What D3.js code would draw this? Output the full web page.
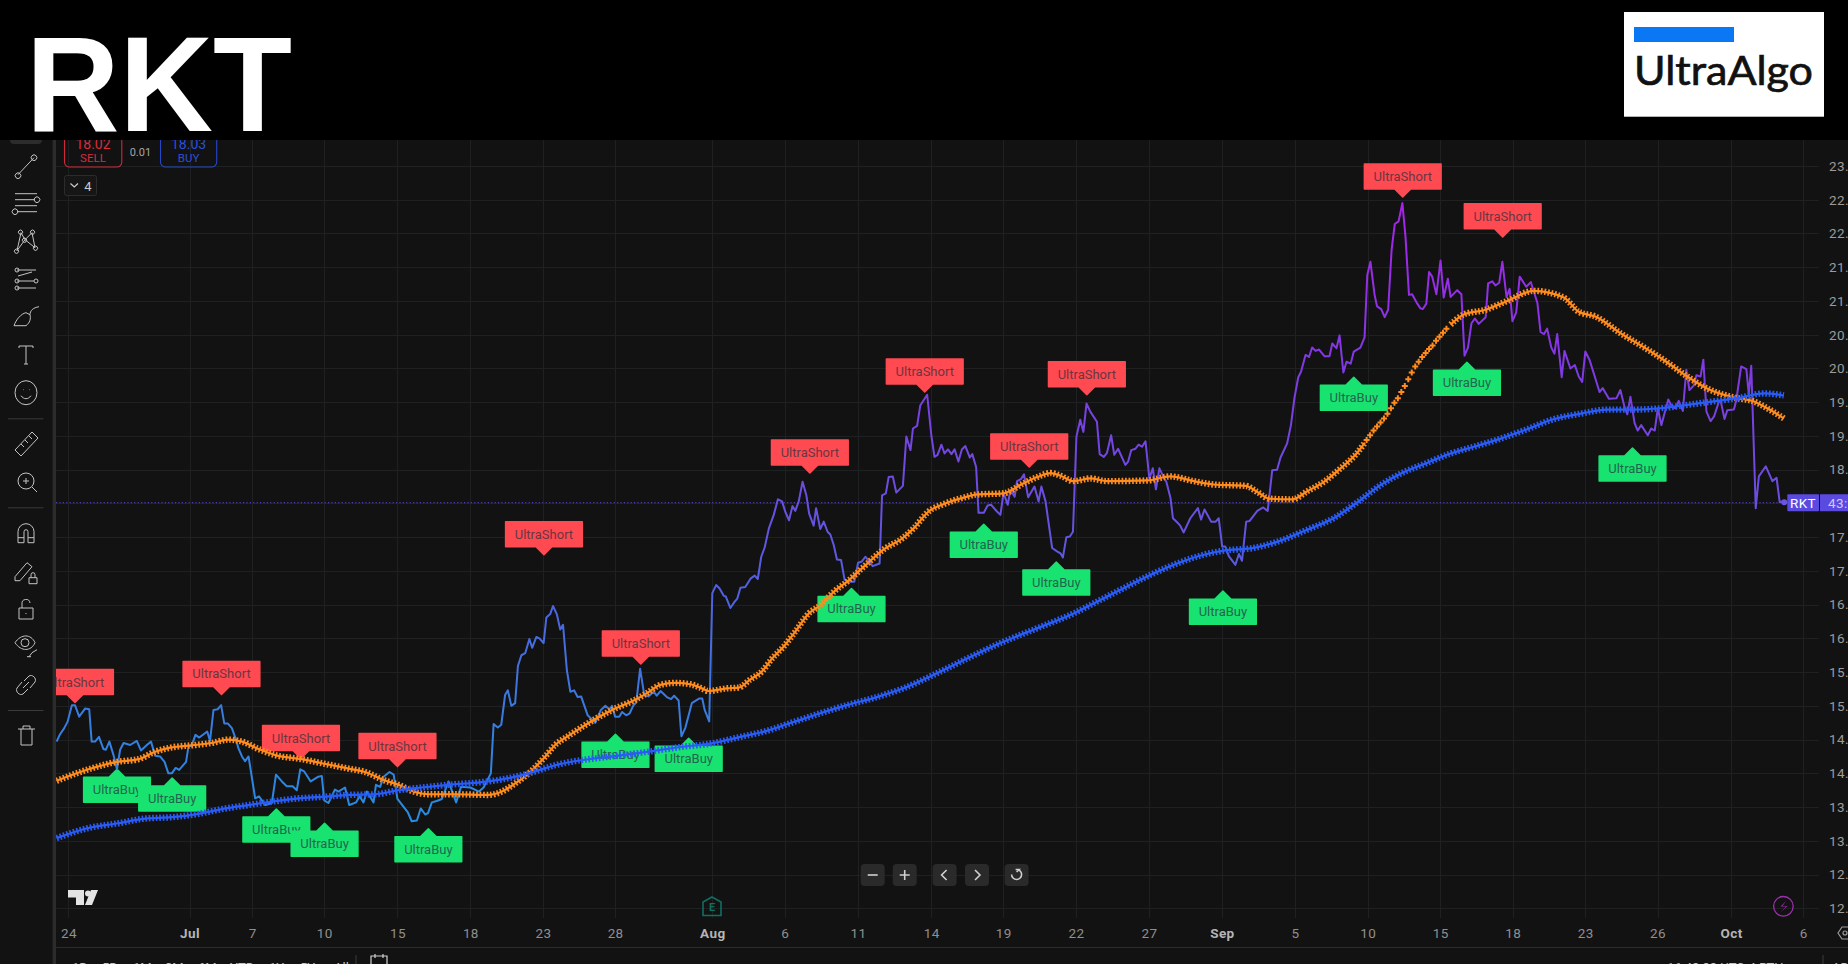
<!DOCTYPE html>
<html>

<head>
    <meta charset="utf-8" />
    <script src="https://d3js.org/d3.v7.min.js"></script>
    <style>
        html, body { margin: 0; padding: 0; background: #000; overflow: hidden; }
        svg { display: block; }
        text { font-family: Roboto, sans-serif; }
    </style>
</head>

<body>
    <svg id="chart" width="1848" height="964"></svg>

    <script>
        // price line (bar number / price)
        const closeBars = [-3.4,-2.4,-1.2,-0.2,1,1.9,3.1,4.8,6,6.7,7.7,8.8,10.1,10.8,11.8,13,14,14.9,15.9,17.8,19.7,20.9,22.6,23.8,25,26.4,27.7,28.8,29.8,30.9,31.9,33.9,34.6,35.5,36.6,37.7,40,40.8,41.8,43,44,44.9,45.9,47.1,48,49,50,50.9,51.9,53.8,54.9,56.7,58.6,59.8,61.5,62.9,64.6,65.8,66.8,67.9,69.8,72,73,73.7,74.9,76.8,77.8,79.7,80.9,82.9,83.9,85,86,87.9,88.6,89.8,90.8,92.5,93.7,94.8,97.8,98.9,100.4,101.5,102.8,103.6,104.7,106.1,107.6,109.5,111.7,113.1,115.8,118.3,119.6,121.7,122.5,123.7,124.7,125.8,126.6,127.6,128.7,129.5,130.5,131.6,132.8,133.6,134.8,135.7,136.9,137.7,138.8,
            139.6,140.7,141.7,142.5,143.6,144.6,145.7,146.7,147.7,149.6,151.8,153.4,154.7,155.9,156.6,157.5,158.7,159.5,160.7,161.7,162.8,163.6,164.7,165.9,167.1,168.6,169.5,170.6,172.4,173.6,174.5,175.8,176.6,177.7,179.6,181.8,182.6,183.3,184.6,185.5,186.6,187.6,188.8,189.4,190.7,191.9,192.7,193.6,195,196.6,197.7,198.6,199.6,200.6,201.8,203.2,204.4,205.6,206.5,207.6,208.6,209.4,210.4,211.5,212.6,213.4,214.7,215.4,216.6,217.6,218.7,219.5,220.5,221.4,222.6,223.6,224.8,226.4,227.5,228.6,229.6,231.7,233.7,234.4,235.5,236.3,237.5,238.5,240.4,241.4,242.6,243.3,244.5,245.4,247.4,248.6,249.5,250.4,251.5,252.4,253.4,254.4,255.3,256.4,257.4,258.4,259.7,260.4,261.5,262.2,263.7,264.8,265.8,267.5,
            268.5,269.4,270.6,271.4,272.6,273.3,274.4,275.3,276.5,278.3,279.5,280.3,281.5,283.4,284.8,285.8,286.5,287.5,288.5,289.4,290.4,291.5,292.4,293.3,294.4,296.3,297.1,298.3,299.2,300.4,301.3,302.4,304.5,305.3,306.2,307.4,308.3,309.3,310.3,311.4,312.4,313.3,314.3,315.8,316.3,317.5,318.2,319.4,320.3,321.3,323.2,325.4,326.3,327.3,329.2,330.5,331.4,332.4,333.3,334.3,336.2,337.2,338.1,339.3,340.3,342.5,344.2,345.5,
            346.8,348.2,349.2,351.1,352.2,353.2,354.3,355.1,356.4,357.4,358.3,359.3,360.3,361.9,363.3,364.1,365.3,366.2,367.3,368.2,369.4,370.3,372.2,373.4,374.2,375.1,376.3,377,378.2,379.2,380.2,381.2,382.1,383.2,384.3,385.2,386.2,387.1,388.6,389.5,390.2,391.2,392,392.9,394.1,395.3,396.2,397.4,398.2,400.1,401.3,402.2,403.2,404.2,405.2,406.3,408.3,409,410.2,411.1,412.2,413.1,414.3,415.2,416,417.1,418.1,420,421.3,423.2,424.1,425.1,426,427.2,428.1,428.9,430.2,431,432.7,434,435.1,436.1,437,438.2,439.9,441.1,442,443.8,446,447.1,448.3,449.1,450,451.2,452.1,453.1,455,456,457,457.9,458.9,460.9,462,463,463.9,465.1,466.1,467,468.3,469,470.2,471,471.9,473.1,474.1,475.5,476,477.1,477.9,479.8,480.5,
            481.9,483.4,484.1,484.8,486.1,487,489,490.9,492.1,493,494.3];
        const closePrices = [14.47,14.58,14.67,14.77,15.01,15.01,14.84,14.96,14.95,14.47,14.47,14.54,14.36,14.35,14.47,14.27,14.06,14.35,14.45,14.42,14.48,14.34,14.42,14.47,14.26,14.25,14.17,14,14,14.08,14.05,14.17,14.4,14.41,14.57,14.53,14.62,14.48,14.94,14.95,15.01,14.74,14.74,14.67,14.54,14.37,14.25,14.18,14.25,13.63,13.66,13.53,13.56,13.98,13.88,13.81,13.81,13.75,14.06,14.03,13.88,13.95,13.96,13.6,13.56,13.76,13.73,13.79,13.53,13.57,13.66,13.57,13.73,13.57,13.83,13.8,13.95,14.02,13.98,13.62,13.42,13.29,13.3,13.48,13.39,13.41,13.57,13.59,13.62,13.88,13.57,13.8,13.79,13.73,13.79,14,14.73,14.68,14.72,15.16,15.23,15,15.04,15.59,15.75,15.78,15.99,15.86,16.02,16,15.93,16.31,16.36,
            16.48,16.36,16.13,16.2,15.53,15.21,15.23,15.13,15.14,14.86,14.75,14.94,15,14.95,15,14.84,14.84,14.91,14.86,14.89,15.01,15.05,15.55,15.16,15.14,15.21,15.15,15.22,15.13,15.1,15.15,15.08,14.55,14.67,15.04,15.11,15.11,14.94,14.77,16.67,16.79,16.74,16.63,16.62,16.45,16.54,16.59,16.75,16.76,16.89,16.93,16.88,17.21,17.35,17.63,17.83,18.06,18.03,17.88,17.75,17.96,17.89,18.03,18.32,18.12,17.85,17.67,17.93,17.62,17.73,17.58,17.54,17.38,17.17,17.16,16.87,16.84,16.84,17.12,17.14,17.21,17.07,17.11,18.12,18.15,18.39,18.4,18.16,18.26,18.99,18.79,19.11,19.15,19.45,19.61,19.01,18.69,18.72,18.87,18.74,18.8,18.73,18.8,18.62,18.8,18.85,18.68,18.73,18.54,17.86,17.86,17.97,17.98,17.88,
            17.83,18.16,17.98,18.2,18.1,18.33,18.36,18.43,18.09,18.25,18.03,18.25,18.03,17.34,17.29,17.26,17.2,17.5,17.51,17.58,18.99,19.24,19.06,19.48,19.36,19.21,18.73,18.69,18.75,19.01,18.72,18.81,18.57,18.62,18.79,18.81,18.87,18.84,18.92,18.37,18.52,18.21,18.52,18.36,18.32,18.08,17.78,17.72,17.67,17.57,17.78,17.93,17.76,17.91,17.73,17.73,17.78,17.36,17.36,17.22,17.09,17.25,17.15,17.73,17.74,17.89,17.94,17.89,
            18.49,18.5,18.68,18.89,19.16,19.56,19.87,19.95,20.2,20.17,20.31,20.26,20.28,20.18,20.18,20.37,20.3,20.49,19.94,20.1,20.07,20.25,20.31,20.46,21.39,21.58,21.09,20.92,20.88,20.76,20.87,21.76,22.14,22.18,22.45,21.95,21.09,21.1,20.96,20.89,20.88,20.96,21.43,21.36,21.1,21.6,21.05,21.33,21.06,21.16,21.1,20.19,20.31,20.67,20.74,20.66,20.76,21.26,21.29,21.23,21.27,21.58,21.06,21.18,20.7,20.83,21.36,21.21,21.28,20.97,20.54,20.51,20.59,20.31,20.22,20.51,19.87,20.26,20,20.05,19.88,19.8,20.25,20.13,19.85,19.65,19.71,19.55,19.56,19.68,19.43,19.32,19.58,19.19,19.08,19.16,19.01,19.11,19.08,19.41,19.16,19.54,19.43,19.41,19.52,19.37,19.98,19.68,19.75,19.9,19.88,20.13,19.36,19.22,19.29,19.51,19.52,19.25,19.38,19.39,19.53,
            20.03,19.99,19.61,20.04,17.93,18.4,18.55,18.33,18.38,18.02,18.03];

        // orange average, flat stretches as a line
        const fastBars = [-3.4,5.8,14,20.2,25,29.3,36.5,41.3,46.1,50,54.8,59.6,67.2,73,80.7,85.5,90.8,95.1,99.4,103.7,111.4,121,124.9,128.7,132.6,137.4,140.2,143.6,147.5,152.3,157.5,163.3,166.7,170.5,174.8,179.2,182,184.4,189.7,193.1,196.4,199.8,202.7,206.1,209.4,213.3,216.6,220.5,224.8,229.1,234.9,240.2,243.5,247.8,252.2,258.9,261.3,269.4,275.2,279.1,283,285.8,289.6,294.4,299.2,310.8,317.5,324.2,330,339.1,342.5,345.9,352.6,356.9,361.7,366.5,371.3,373.5];
        const fastPrices = [13.89,14.06,14.17,14.21,14.32,14.38,14.42,14.45,14.5,14.47,14.36,14.27,14.21,14.15,14.07,14.02,13.9,13.83,13.73,13.69,13.69,13.68,13.73,13.85,14,14.25,14.42,14.54,14.67,14.82,14.96,15.09,15.19,15.31,15.34,15.32,15.27,15.22,15.26,15.27,15.39,15.51,15.7,15.88,16.1,16.37,16.49,16.69,16.86,17.06,17.32,17.48,17.63,17.88,17.99,18.1,18.13,18.15,18.3,18.39,18.45,18.41,18.33,18.37,18.33,18.34,18.4,18.33,18.28,18.26,18.17,18.07,18.06,18.18,18.32,18.52,18.75,18.9];
        // orange average where the crosses stand apart
        const fastCrossBars = [374,375,376,377,378,379,380,381,382,383,384,385,386,387,388,389,390,391,392,393,394,395,396,397];
        const fastCrossPrices = [18.94,19.01,19.08,19.14,19.2,19.26,19.33,19.41,19.49,19.56,19.65,19.74,19.84,19.94,20.03,20.1,20.17,20.23,20.29,20.34,20.41,20.47,20.53,20.59];
        const fastTailBars = [398.2,402,408.3,414.5,422.2,430.8,435.1,439.9,447.2,454.3,459.2,466.4,472.2,479.8,485.6,489.4,494.2];
        const fastTailPrices = [20.65,20.8,20.87,21,21.15,21.05,20.84,20.77,20.52,20.3,20.14,19.88,19.7,19.57,19.51,19.41,19.26];

        // blue average
        const slowBars = [-3.4,5.8,14.4,22.1,29.8,37.5,44.2,51.9,58.6,66.3,73,80.7,88.4,95.1,101.8,109.5,119.1,124.9,132.6,140.2,158,165.7,176.3,184.9,193.6,201.2,208.9,216.6,224.3,232.9,240.6,249.3,258.9,268.5,279.1,289.6,297.3,305,311.7,319.4,327.1,332.9,341.5,348.2,356.9,364.5,372.2,378,384.2,391.4,398.2,404.9,412.6,420.3,428,435.7,443.3,451,458.7,466.4,472.2,480.8,488.5,494.2];
        const slowPrices = [13.04,13.19,13.26,13.33,13.35,13.4,13.47,13.53,13.58,13.63,13.65,13.68,13.69,13.75,13.79,13.83,13.87,13.91,14,14.12,14.26,14.31,14.39,14.44,14.54,14.63,14.76,14.89,15.01,15.13,15.26,15.46,15.7,15.93,16.15,16.37,16.57,16.77,16.94,17.11,17.24,17.3,17.34,17.43,17.61,17.78,18.05,18.27,18.45,18.6,18.74,18.84,18.96,19.1,19.25,19.33,19.39,19.39,19.41,19.46,19.5,19.56,19.63,19.6];

        // signal labels, tip of the arrow
        const shortBars = [1.9,44.1,67,94.8,137,164.9,213.6,246.7,276.8,293.4,384.4,413.2];
        const shortPrices = [15.05,15.17,14.22,14.1,17.24,15.62,18.45,19.65,18.54,19.61,22.54,21.95];
        const buyBars = [14,29.9,59.9,73.8,103.7,157.6,178.7,225.6,263.7,284.6,332.6,370.3,402.9,450.6];
        const buyPrices = [14.06,13.93,13.47,13.26,13.18,14.58,14.52,16.74,17.69,17.13,16.7,19.87,20.09,18.82];

        const lastPrice = 18.01;
        const priceTicks = [23,22.5,22,21.5,21,20.5,20,19.5,19,18.5,18,17.5,17,16.5,16,15.5,15,14.5,14,13.5,13,12.5,12];
        const timeTickBars = [0,34.9,53,73.7,94.8,115.8,136.7,157.5,185.5,206.4,227.5,248.6,269.3,290.3,311.3,332.3,353.4,374.3,395.2,416.1,437,457.8,479,499.8];
        const timeTickLabels = ["24","Jul","7","10","15","18","23","28","Aug","6","11","14","19","22","27","Sep","5","10","15","18","23","26","Oct","6"];
        const gradientPrices = [13, 15, 16.5, 18, 20, 22.4];
        const gradientColors = ["#2390e0", "#3a7ae0", "#4e63df", "#6a4fe0", "#7f3ae2", "#a823ea"];

        const width = 1848, height = 964;
        const plotLeft = 56, plotRight = 1819, plotTop = 140, plotBottom = 918;

        const x = d3.scaleLinear().domain([0, 499.8]).range([68.4, 1803.3]);
        const y = d3.scaleLinear().domain([12, 23]).range([908.3, 166]);

        const svg = d3.select("#chart");
        svg.append("rect").attr("width", width).attr("height", height).attr("fill", "#121212");

        const defs = svg.append("defs");
        defs.append("clipPath").attr("id", "plot")
            .append("rect").attr("x", plotLeft).attr("y", plotTop).attr("width", plotRight - plotLeft).attr("height", plotBottom - plotTop + 4);

        const grad = defs.append("linearGradient").attr("id", "priceGrad")
            .attr("gradientUnits", "userSpaceOnUse")
            .attr("x1", 0).attr("x2", 0)
            .attr("y1", y(gradientPrices[0])).attr("y2", y(gradientPrices[gradientPrices.length - 1]));
        grad.selectAll("stop").data(gradientPrices).enter().append("stop")
            .attr("offset", d => (d - gradientPrices[0]) / (gradientPrices[gradientPrices.length - 1] - gradientPrices[0]))
            .attr("stop-color", (d, i) => gradientColors[i]);

        // grid
        const grid = svg.append("g").attr("stroke", "#1f2021").attr("stroke-width", 1);
        grid.selectAll(".h").data(priceTicks).enter().append("line")
            .attr("x1", plotLeft).attr("x2", plotRight)
            .attr("y1", d => Math.round(y(d)) + 0.5).attr("y2", d => Math.round(y(d)) + 0.5);
        grid.selectAll(".v").data(timeTickBars).enter().append("line")
            .attr("y1", plotTop).attr("y2", plotBottom)
            .attr("x1", d => Math.round(x(d)) + 0.5).attr("x2", d => Math.round(x(d)) + 0.5);

        // axes labels
        const axisY = d3.axisRight(y).tickValues(priceTicks).tickFormat(d3.format(".1f")).tickSize(0).tickPadding(0);
        const yAxisG = svg.append("g").attr("transform", "translate(1829,0)").call(axisY);
        yAxisG.select(".domain").remove();
        yAxisG.selectAll("text").attr("fill", "#9b9b9b").style("font-size", "13.5px").style("letter-spacing", "0.4px");

        const axisX = d3.axisBottom(x).tickValues(timeTickBars)
            .tickFormat((d, i) => timeTickLabels[i]).tickSize(0).tickPadding(0);
        const xAxisG = svg.append("g").attr("transform", "translate(0,928)").call(axisX);
        xAxisG.select(".domain").remove();
        xAxisG.selectAll("text")
            .attr("fill", (d, i) => timeTickLabels[i].length === 3 ? "#b5b5b5" : "#8f8f8f")
            .style("font-weight", (d, i) => timeTickLabels[i].length === 3 ? "700" : "400")
            .style("font-size", "13.5px").style("letter-spacing", "0.4px");

        const plot = svg.append("g").attr("clip-path", "url(#plot)");

        // last price line
        plot.append("line").attr("x1", plotLeft).attr("x2", plotRight)
            .attr("y1", y(lastPrice)).attr("y2", y(lastPrice))
            .attr("stroke", "#5a48e6").attr("stroke-width", 1).attr("stroke-dasharray", "1.2 2.2");

        // signal labels, under the lines
        const labelG = plot.append("g");
        const boxW = 76.7, buyW = 66.7, boxH = 25;

        function shortPath() {
            const p = d3.path();
            p.moveTo(0, 0); p.lineTo(-8, -8); p.lineTo(-boxW / 2, -8);
            p.lineTo(-boxW / 2, -8 - boxH); p.lineTo(boxW / 2, -8 - boxH); p.lineTo(boxW / 2, -8);
            p.lineTo(8, -8); p.closePath();
            return p.toString();
        }
        function buyPath() {
            const p = d3.path();
            p.moveTo(0, 0); p.lineTo(8, 8); p.lineTo(buyW / 2, 8);
            p.lineTo(buyW / 2, 8 + boxH); p.lineTo(-buyW / 2, 8 + boxH); p.lineTo(-buyW / 2, 8);
            p.lineTo(-8, 8); p.closePath();
            return p.toString();
        }

        const signals = shortBars.map((b, i) => ({ bar: b, price: shortPrices[i], kind: "short" }))
            .concat(buyBars.map((b, i) => ({ bar: b, price: buyPrices[i], kind: "buy" })))
            .sort((a, b) => a.bar - b.bar);

        const sig = labelG.selectAll("g").data(signals).enter().append("g")
            .attr("transform", d => `translate(${x(d.bar)},${y(d.price)})`);
        sig.append("path")
            .attr("d", d => d.kind === "short" ? shortPath() : buyPath())
            .attr("fill", d => d.kind === "short" ? "#ff4a52" : "#19e370")
            .attr("stroke", d => d.kind === "short" ? "#ff4a52" : "#19e370")
            .attr("stroke-width", 1.5).attr("stroke-linejoin", "round");
        sig.append("text")
            .attr("text-anchor", "middle")
            .attr("y", d => d.kind === "short" ? -20.5 : 20.5)
            .attr("dy", "0.35em")
            .attr("fill", d => d.kind === "short" ? "#6b3640" : "#22654f")
            .style("font-size", "13px")
            .text(d => d.kind === "short" ? "UltraShort" : "UltraBuy");

        // price
        const priceLine = d3.line().x(d => x(d[0])).y(d => y(d[1]));
        plot.append("path")
            .attr("d", priceLine(closeBars.map((b, i) => [b, closePrices[i]])))
            .attr("fill", "none").attr("stroke", "url(#priceGrad)")
            .attr("stroke-width", 2).attr("stroke-linejoin", "round");

        // the averages are cross plots: a core line with a dashed wider one for the cross arms
        const maLine = d3.line().curve(d3.curveMonotoneX).x(d => x(d[0])).y(d => y(d[1]));
        function drawMa(bars, prices, color) {
            const d = maLine(bars.map((b, i) => [b, prices[i]]));
            plot.append("path").attr("d", d).attr("fill", "none").attr("stroke", color).attr("stroke-width", 2.2);
            plot.append("path").attr("d", d).attr("fill", "none").attr("stroke", color)
                .attr("stroke-width", 6.4).attr("stroke-dasharray", "1.7 1.8");
        }
        drawMa(fastBars, fastPrices, "#ff8c1f");
        drawMa(fastTailBars, fastTailPrices, "#ff8c1f");
        plot.selectAll(".fastCross").data(fastCrossBars).enter().append("path")
            .attr("d", d3.symbol().type(d3.symbolCross).size(20))
            .attr("transform", (d, i) => `translate(${x(d)},${y(fastCrossPrices[i])})`)
            .attr("fill", "#ff8c1f");
        drawMa(slowBars, slowPrices, "#2a5cf5");

        // last point
        plot.append("circle").attr("cx", x(closeBars[closeBars.length - 1])).attr("cy", y(lastPrice) - 0.5)
            .attr("r", 3).attr("fill", "#6a55e0");

        // price tag
        svg.append("rect").attr("x", 1787.3).attr("y", y(lastPrice) - 8.5).attr("width", 31.7).attr("height", 17)
            .attr("fill", "#5b4ae0").attr("rx", 1);
        svg.append("rect").attr("x", 1820).attr("y", y(lastPrice) - 8.5).attr("width", 28).attr("height", 17)
            .attr("fill", "#5b4ae0");
        svg.append("text").attr("x", 1803).attr("y", y(lastPrice)).attr("dy", "0.36em").attr("text-anchor", "middle")
            .attr("fill", "#fff").style("font-size", "13.5px").style("letter-spacing", "0.4px").text("RKT");
        svg.append("text").attr("x", 1828).attr("y", y(lastPrice)).attr("dy", "0.36em")
            .attr("fill", "#cfc9f7").style("font-size", "13.5px").style("letter-spacing", "0.4px").text("43:51");

        // chart buttons
        const buttons = [[872.7, "M-5 0H5"], [904.7, "M-5 0H5M0 -5V5"], [944.6, "M2 -5L-3 0L2 5"], [977, "M-2 -5L3 0L-2 5"],
            [1016.6, "M-1 -5.5L2.5 -5.5L0 -3 M0 -5.5A5 5 0 1 1 -5 -0.5"]];
        const btn = svg.selectAll(".btn").data(buttons).enter().append("g")
            .attr("transform", d => `translate(${d[0]},875)`);
        btn.append("rect").attr("x", -12).attr("y", -11).attr("width", 24).attr("height", 22).attr("rx", 4).attr("fill", "#2a2a2a");
        btn.append("path").attr("d", d => d[1]).attr("fill", "none").attr("stroke", "#d0d0d0").attr("stroke-width", 1.6);

        // earnings marker and lightning
        svg.append("path").attr("d", "M712 897L721 902V915.5H703V902Z")
            .attr("fill", "none").attr("stroke", "#0e6f62").attr("stroke-width", 1.6);
        svg.append("text").attr("x", 712).attr("y", 907).attr("dy", "0.36em").attr("text-anchor", "middle")
            .attr("fill", "#0e6f62").style("font-size", "11px").style("font-weight", "700").text("E");
        svg.append("circle").attr("cx", 1783.4).attr("cy", 906.3).attr("r", 9.8)
            .attr("fill", "none").attr("stroke", "#9c2fb0").attr("stroke-width", 1.3);
        svg.append("path").attr("d", "M1786.5 900.5L1780.5 906.5H1786L1780.5 912.5L1787.5 906H1782.5Z").attr("fill", "#9c2fb0");

        // TV logo
        svg.append("path").attr("d", "M68 890H84V905H76V897.5H68Z").attr("fill", "#e4e4e4");
        svg.append("circle").attr("cx", 88).attr("cy", 893.5).attr("r", 3).attr("fill", "#e4e4e4");
        svg.append("path").attr("d", "M85 905L91 890H98L92 905Z").attr("fill", "#e4e4e4");

        // settings hexagon at the corner of the axes
        svg.append("path").attr("d", "M1838 933L1842 927H1850V939H1842Z").attr("fill", "none").attr("stroke", "#9b9b9b").attr("stroke-width", 1.2);
        svg.append("circle").attr("cx", 1845).attr("cy", 933).attr("r", 2).attr("fill", "none").attr("stroke", "#9b9b9b").attr("stroke-width", 1.2);

        // left toolbar and frame
        svg.append("rect").attr("x", 52.6).attr("y", 0).attr("width", 3.4).attr("height", height).attr("fill", "#2c2c2c");
        svg.append("line").attr("x1", 56).attr("x2", width).attr("y1", 947.5).attr("y2", 947.5).attr("stroke", "#2c2c2c");
        svg.append("rect").attr("x", 10).attr("y", 120).attr("width", 32).attr("height", 24).attr("rx", 4).attr("fill", "#2c2c2c");

        const icons = [
            [165.7, "M-8 9L8 -8M-10 8a2 2 0 1 0 4 4a2 2 0 1 0 -4 -4M6 -10a2 2 0 1 0 4 4a2 2 0 1 0 -4 -4"],
            [202.7, "M-11 -9H11M-11 -3H9M-11 3H11M-9 9H11M9 -5a2 2 0 1 0 4 4a2 2 0 1 0 -4 -4M-13 7a2 2 0 1 0 4 4a2 2 0 1 0 -4 -4"],
            [240.7, "M-9 10L-5 -8L-1 -1L6 -8L9 7L-1 -1ZM-7 -10a2 2 0 1 0 3 3a2 2 0 1 0 -3 -3M5 -10a2 2 0 1 0 3 3a2 2 0 1 0 -3 -3M-11 9a2 2 0 1 0 3 3a2 2 0 1 0 -3 -3M8 6a2 2 0 1 0 3 3a2 2 0 1 0 -3 -3M-3 -2a2 2 0 1 0 3 3a2 2 0 1 0 -3 -3"],
            [279, "M-9 -9H10M-9 2H8M-9 9H10M-8 -3L6 -7M-11 -9a2 2 0 1 0 4 0a2 2 0 1 0 -4 0M-11 2a2 2 0 1 0 4 0a2 2 0 1 0 -4 0M-11 9a2 2 0 1 0 4 0a2 2 0 1 0 -4 0M8 2a2 2 0 1 0 4 0a2 2 0 1 0 -4 0"],
            [316.7, "M-12 9H0C4 6 5 2 4 -2L0 -4C-5 -3 -10 3 -12 9ZM4 -2C4 -6 7 -9 13 -10"],
            [355, "M-7 -9H7M-7 -9V-7M7 -9V-7M0 -9V9M-2 9H2"],
            [392.7, "M-11 0A11 12 0 1 0 11 0A11 12 0 1 0 -11 0M-5 3C-2 7 2 7 5 3M-3 -3h.5M3 -3h.5"],
            [443, "M-11 7L6 -11L12 -5L-5 13ZM-5 1L-2 4M-1 -3L2 0M3 -7L6 -4"],
            [481, "M-8 0A8 8 0 1 0 8 0A8 8 0 1 0 -8 0M6 6L11 11M-3 0H3M0 -3V3"],
            [532.7, "M-8 10V-1A8 8 0 0 1 8 -1V10H2V-1A2 2 0 0 0 -2 -1V10ZM-8 5H-2M2 5H8"],
            [571.7, "M-11 5L1 -9L6 -5L-6 9H-11ZM3 6H11V12H3ZM5 6V3A2 2 0 0 1 9 3V6"],
            [610, "M-7 -2H7V9H-7ZM-4 -2V-6A4 4 0 0 1 4 -7M0 3V4"],
            [646.7, "M-11 -4C-5 -13 5 -13 9 -4C5 5 -5 5 -11 -4ZM-5 -4A4 4 0 1 0 3 -4A4 4 0 1 0 -5 -4M3 10L6 6L11 3M1 10H5"],
            [685, "M-2 -4L3 -9C6 -11 11 -7 9 -3L4 3M2 4L-3 9C-6 11 -11 7 -9 3L-4 -3M-3 3L3 -3"],
            [736, "M-8 -7H9M-5 -7L-5 9H6L6 -7M-3 -7V-10H4V-7"]
        ];
        svg.selectAll(".icon").data(icons).enter().append("path")
            .attr("transform", d => `translate(26,${d[0]})`)
            .attr("d", d => d[1]).attr("fill", "none").attr("stroke", "#c4c4c4").attr("stroke-width", 1);
        svg.selectAll(".sep").data([418.3, 507.3, 710]).enter().append("line")
            .attr("x1", 8).attr("x2", 43.5).attr("y1", d => d + 0.5).attr("y2", d => d + 0.5).attr("stroke", "#3a3a3a");

        // order buttons under the header
        svg.append("rect").attr("x", 64.5).attr("y", 120).attr("width", 57.3).attr("height", 47).attr("rx", 5)
            .attr("fill", "none").attr("stroke", "#cf2a3a").attr("stroke-width", 1.1);
        svg.append("rect").attr("x", 160.5).attr("y", 120).attr("width", 56.2).attr("height", 47).attr("rx", 5)
            .attr("fill", "none").attr("stroke", "#2448c8").attr("stroke-width", 1.1);
        svg.append("text").attr("x", 93).attr("y", 144).attr("dy", "0.36em").attr("text-anchor", "middle")
            .attr("fill", "#d92c3c").style("font-size", "14px").text("18.02");
        svg.append("text").attr("x", 93).attr("y", 158).attr("dy", "0.36em").attr("text-anchor", "middle")
            .attr("fill", "#d92c3c").style("font-size", "11.5px").text("SELL");
        svg.append("text").attr("x", 188.6).attr("y", 144).attr("dy", "0.36em").attr("text-anchor", "middle")
            .attr("fill", "#2a50d8").style("font-size", "14px").text("18.03");
        svg.append("text").attr("x", 188.6).attr("y", 158).attr("dy", "0.36em").attr("text-anchor", "middle")
            .attr("fill", "#2a50d8").style("font-size", "11.5px").text("BUY");
        svg.append("text").attr("x", 140.4).attr("y", 151.7).attr("dy", "0.36em").attr("text-anchor", "middle")
            .attr("fill", "#a5a5a5").style("font-size", "11px").text("0.01");
        svg.append("rect").attr("x", 64.5).attr("y", 175.5).attr("width", 32).attr("height", 20).attr("rx", 2)
            .attr("fill", "#161616").attr("stroke", "#2c2c2c");
        svg.append("path").attr("d", "M70.5 183.5L74.3 187L78 183.5").attr("fill", "none").attr("stroke", "#ccc").attr("stroke-width", 1.2);
        svg.append("text").attr("x", 88).attr("y", 186).attr("dy", "0.36em").attr("text-anchor", "middle")
            .attr("fill", "#ccc").style("font-size", "13px").text("4");

        // bottom bar, cut by the picture edge
        const ranges = [[72, "1D"], [102, "5D"], [133, "1M"], [165, "3M"], [198, "6M"], [230, "YTD"], [269, "1Y"], [300, "5Y"], [334, "All"]];
        svg.selectAll(".range").data(ranges).enter().append("text")
            .attr("x", d => d[0]).attr("y", 972).attr("fill", "#c4c4c4").style("font-size", "13px").text(d => d[1]);
        svg.append("line").attr("x1", 356).attr("x2", 356).attr("y1", 955).attr("y2", 964).attr("stroke", "#3a3a3a");
        svg.append("path").attr("d", "M371 966V956H387V966M375 954V958M383 954V958").attr("fill", "none").attr("stroke", "#d0d0d0").attr("stroke-width", 1.2);
        svg.append("text").attr("x", 1667).attr("y", 972).attr("fill", "#c4c4c4").style("font-size", "13px").text("16:48:33 UTC-4   RTH");
        svg.append("line").attr("x1", 1823).attr("x2", 1823).attr("y1", 955).attr("y2", 964).attr("stroke", "#3a3a3a");
        svg.append("text").attr("x", 1832).attr("y", 972).attr("fill", "#c4c4c4").style("font-size", "13px").text("ADJ");

        // header band
        svg.append("rect").attr("width", width).attr("height", plotTop).attr("fill", "#000");
        svg.append("text").attr("x", 26).attr("y", 131).attr("textLength", 266).attr("lengthAdjust", "spacingAndGlyphs")
            .attr("fill", "#fff").style("font-family", "'Liberation Sans'").style("font-weight", "700").style("font-size", "136px").text("RKT");
        svg.append("rect").attr("x", 1624).attr("y", 12).attr("width", 200).attr("height", 104.7).attr("fill", "#fff");
        svg.append("rect").attr("x", 1634).attr("y", 27).attr("width", 100).attr("height", 15).attr("fill", "#0a78f5");
        svg.append("text").attr("x", 1634).attr("y", 85).attr("textLength", 179).attr("lengthAdjust", "spacingAndGlyphs")
            .attr("fill", "#111").attr("stroke", "#111").attr("stroke-width", 0.7)
            .style("font-family", "Lato").style("font-size", "41px").text("UltraAlgo");
    </script>
</body>

</html>
